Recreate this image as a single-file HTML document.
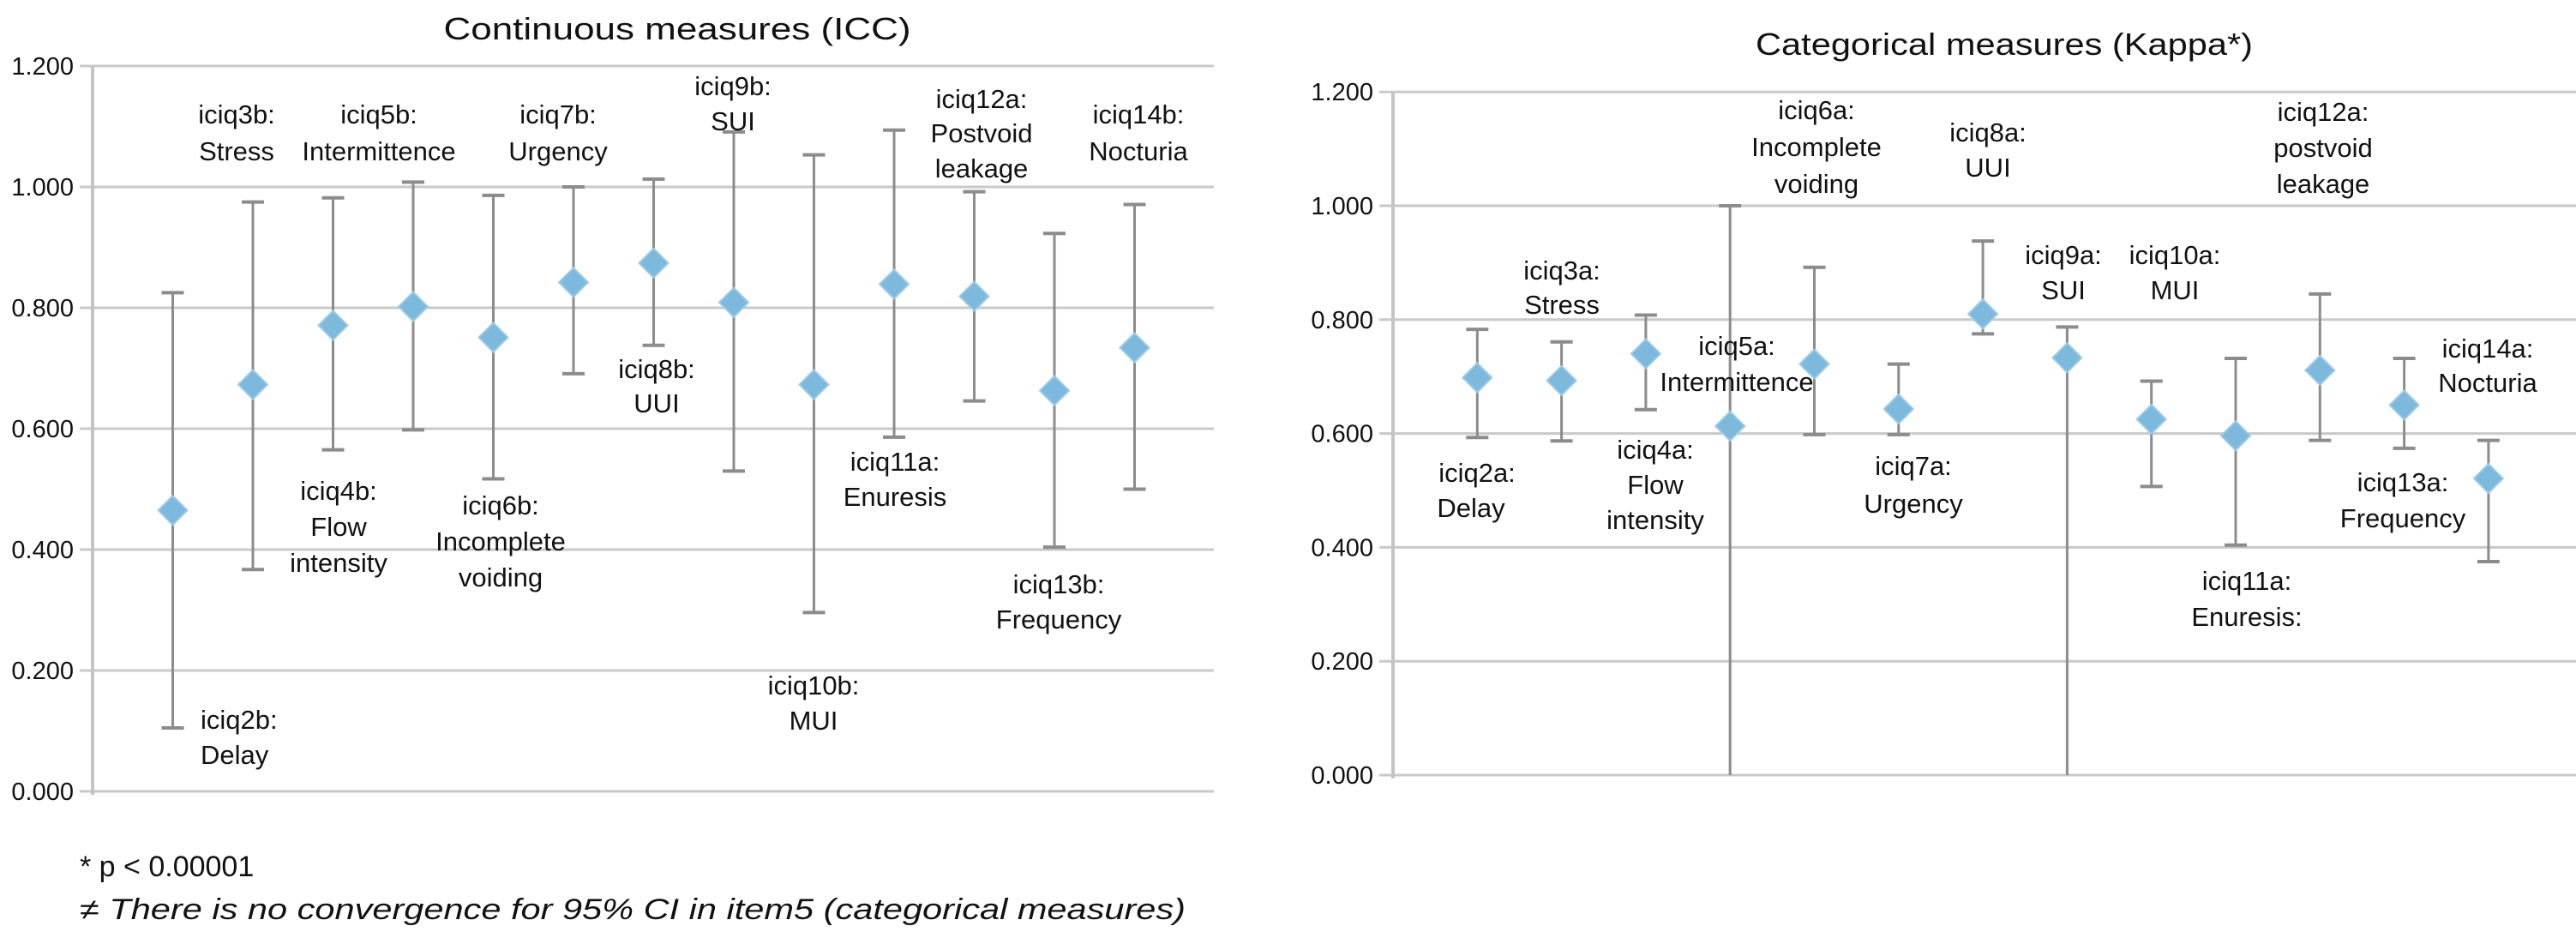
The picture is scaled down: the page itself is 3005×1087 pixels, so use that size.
<!DOCTYPE html>
<html><head><meta charset="utf-8">
<style>
html,body{margin:0;padding:0;background:#fff;}
svg{display:block;font-family:"Liberation Sans",Arial,sans-serif;}
.tick{font-size:29px;fill:#111;}
.lab{font-size:31px;fill:#111;}
</style></head>
<body>
<svg id="svg" width="3005" height="1087" viewBox="0 0 3005 1087" xmlns="http://www.w3.org/2000/svg">
<text x="790" y="46" font-size="36" text-anchor="middle" textLength="545" lengthAdjust="spacingAndGlyphs" fill="#111">Continuous measures (ICC)</text>
<text x="2338" y="64" font-size="36" text-anchor="middle" textLength="580" lengthAdjust="spacingAndGlyphs" fill="#111">Categorical measures (Kappa*)</text>
<g id="left"></g>
<g id="right"></g>
<g class="lab" text-anchor="middle">
<text x="276" y="144">iciq3b:</text><text x="276" y="187">Stress</text>
<text x="442" y="144">iciq5b:</text><text x="442" y="187">Intermittence</text>
<text x="651" y="144">iciq7b:</text><text x="651" y="187">Urgency</text>
<text x="855" y="111">iciq9b:</text><text x="855" y="152">SUI</text>
<text x="1145" y="126">iciq12a:</text><text x="1145" y="166">Postvoid</text><text x="1145" y="207">leakage</text>
<text x="1328" y="144">iciq14b:</text><text x="1328" y="187">Nocturia</text>
<text x="766" y="441">iciq8b:</text><text x="766" y="481">UUI</text>
<text x="395" y="583">iciq4b:</text><text x="395" y="625">Flow</text><text x="395" y="667">intensity</text>
<text x="584" y="600">iciq6b:</text><text x="584" y="642">Incomplete</text><text x="584" y="684">voiding</text>
<text x="1044" y="549">iciq11a:</text><text x="1044" y="590">Enuresis</text>
<text x="1235" y="692">iciq13b:</text><text x="1235" y="733">Frequency</text>
<text x="949" y="810">iciq10b:</text><text x="949" y="851">MUI</text>
<text x="234" y="850" text-anchor="start">iciq2b:</text><text x="234" y="891" text-anchor="start">Delay</text>
</g>
<g class="lab" text-anchor="middle">
<text x="1723" y="562">iciq2a:</text><text x="1716" y="603">Delay</text>
<text x="1822" y="326">iciq3a:</text><text x="1822" y="366">Stress</text>
<text x="1931" y="535">iciq4a:</text><text x="1931" y="576">Flow</text><text x="1931" y="617">intensity</text>
<text x="2026" y="414">iciq5a:</text><text x="2026" y="456">Intermittence</text>
<text x="2119" y="139">iciq6a:</text><text x="2119" y="182">Incomplete</text><text x="2119" y="225">voiding</text>
<text x="2319" y="165">iciq8a:</text><text x="2319" y="206">UUI</text>
<text x="2407" y="308">iciq9a:</text><text x="2407" y="349">SUI</text>
<text x="2537" y="308">iciq10a:</text><text x="2537" y="349">MUI</text>
<text x="2710" y="141">iciq12a:</text><text x="2710" y="183">postvoid</text><text x="2710" y="225">leakage</text>
<text x="2902" y="417">iciq14a:</text><text x="2902" y="457">Nocturia</text>
<text x="2803" y="573">iciq13a:</text><text x="2803" y="615">Frequency</text>
<text x="2232" y="554">iciq7a:</text><text x="2232" y="598">Urgency</text>
<text x="2621" y="688">iciq11a:</text><text x="2621" y="730">Enuresis:</text>
</g>
<text x="93" y="1022" font-size="34" fill="#111">* p &lt; 0.00001</text>
<text x="93" y="1072" font-size="34" font-style="italic" fill="#111" textLength="1290" lengthAdjust="spacingAndGlyphs">≠ There is no convergence for 95% CI in item5 (categorical measures)</text>
</svg>
<script>
const leftCats = ["iciq2b","iciq3b","iciq4b","iciq5b","iciq6b","iciq7b","iciq8b","iciq9b","iciq10b","iciq11a","iciq12a","iciq13b","iciq14b"];
const leftVals = [0.465,0.673,0.771,0.802,0.751,0.842,0.874,0.809,0.673,0.839,0.819,0.663,0.734];
const leftHi = [0.825,0.975,0.982,1.008,0.986,1.000,1.013,1.091,1.053,1.094,0.992,0.923,0.971];
const leftLo = [0.105,0.367,0.565,0.598,0.517,0.691,0.738,0.530,0.296,0.586,0.646,0.404,0.500];
const rightCats = ["iciq2a","iciq3a","iciq4a","iciq5a","iciq6a","iciq7a","iciq8a","iciq9a","iciq10a","iciq11a","iciq12a","iciq13a","iciq14a"];
const rightVals = [0.698,0.693,0.740,0.613,0.722,0.643,0.810,0.733,0.625,0.596,0.711,0.650,0.521];
const rightHi = [0.783,0.761,0.808,1.000,0.892,0.722,0.938,0.787,0.692,0.732,0.845,0.732,0.588];
const rightLo = [0.593,0.587,0.642,0.000,0.598,0.598,0.775,0.000,0.507,0.404,0.588,0.574,0.375];
const tickVals = [0,0.2,0.4,0.6,0.8,1.0,1.2];
const tickLabels = ["0.000","0.200","0.400","0.600","0.800","1.000","1.200"];

const NS = "http://www.w3.org/2000/svg";
function mk(tag, attrs, parent){const e=document.createElementNS(NS,tag);for(const k in attrs)e.setAttribute(k,attrs[k]);parent.appendChild(e);return e;}

function draw(g, cfg, cats, vals, hi, lo, prefix){
  const y = v => cfg.y0 - v*cfg.k;
  const x = i => cfg.ax + cfg.step*(i+1);
  tickVals.forEach((t,i)=>{
    const ln = mk('line',{x1:cfg.gx0,x2:cfg.gx1,y1:y(t),y2:y(t),stroke:'#c9c9c9','stroke-width':3},g);
    
    
    const tx = mk('text',{x:cfg.lx,y:y(t)+10,'text-anchor':'end',class:'tick'},g);
    tx.textContent = tickLabels[i];
    
    
  });
  const ax = mk('line',{x1:cfg.ax,x2:cfg.ax,y1:y(1.2),y2:y(0)+4,stroke:'#c4c4c4','stroke-width':4},g);
  
  
  cats.forEach((c,i)=>{
    const xi=x(i);
    const eb = mk('g',{},g);
    
    
    mk('line',{x1:xi,x2:xi,y1:y(hi[i]),y2:y(lo[i]),stroke:'#8c8c8c','stroke-width':3},eb);
    mk('line',{x1:xi-13,x2:xi+13,y1:y(hi[i]),y2:y(hi[i]),stroke:'#8c8c8c','stroke-width':4},eb);
    if (lo[i] > 0) mk('line',{x1:xi-13,x2:xi+13,y1:y(lo[i]),y2:y(lo[i]),stroke:'#8c8c8c','stroke-width':4},eb);
    const yv=y(vals[i]);
    const d = mk('path',{d:`M${xi} ${yv-17} L${xi+17} ${yv} L${xi} ${yv+17} L${xi-17} ${yv} Z`,fill:'#7db9dd',stroke:'#9ccbe6','stroke-width':2},g);
    
    
  });
}
draw(document.getElementById('left'),{y0:923,k:705,ax:108,step:93.5,gx0:93,gx1:1416,lx:86},leftCats,leftVals,leftHi,leftLo,'icc');
draw(document.getElementById('right'),{y0:904,k:664,ax:1625,step:98.3,gx0:1609,gx1:3005,lx:1602},rightCats,rightVals,rightHi,rightLo,'kappa');
</script>
</body></html>
